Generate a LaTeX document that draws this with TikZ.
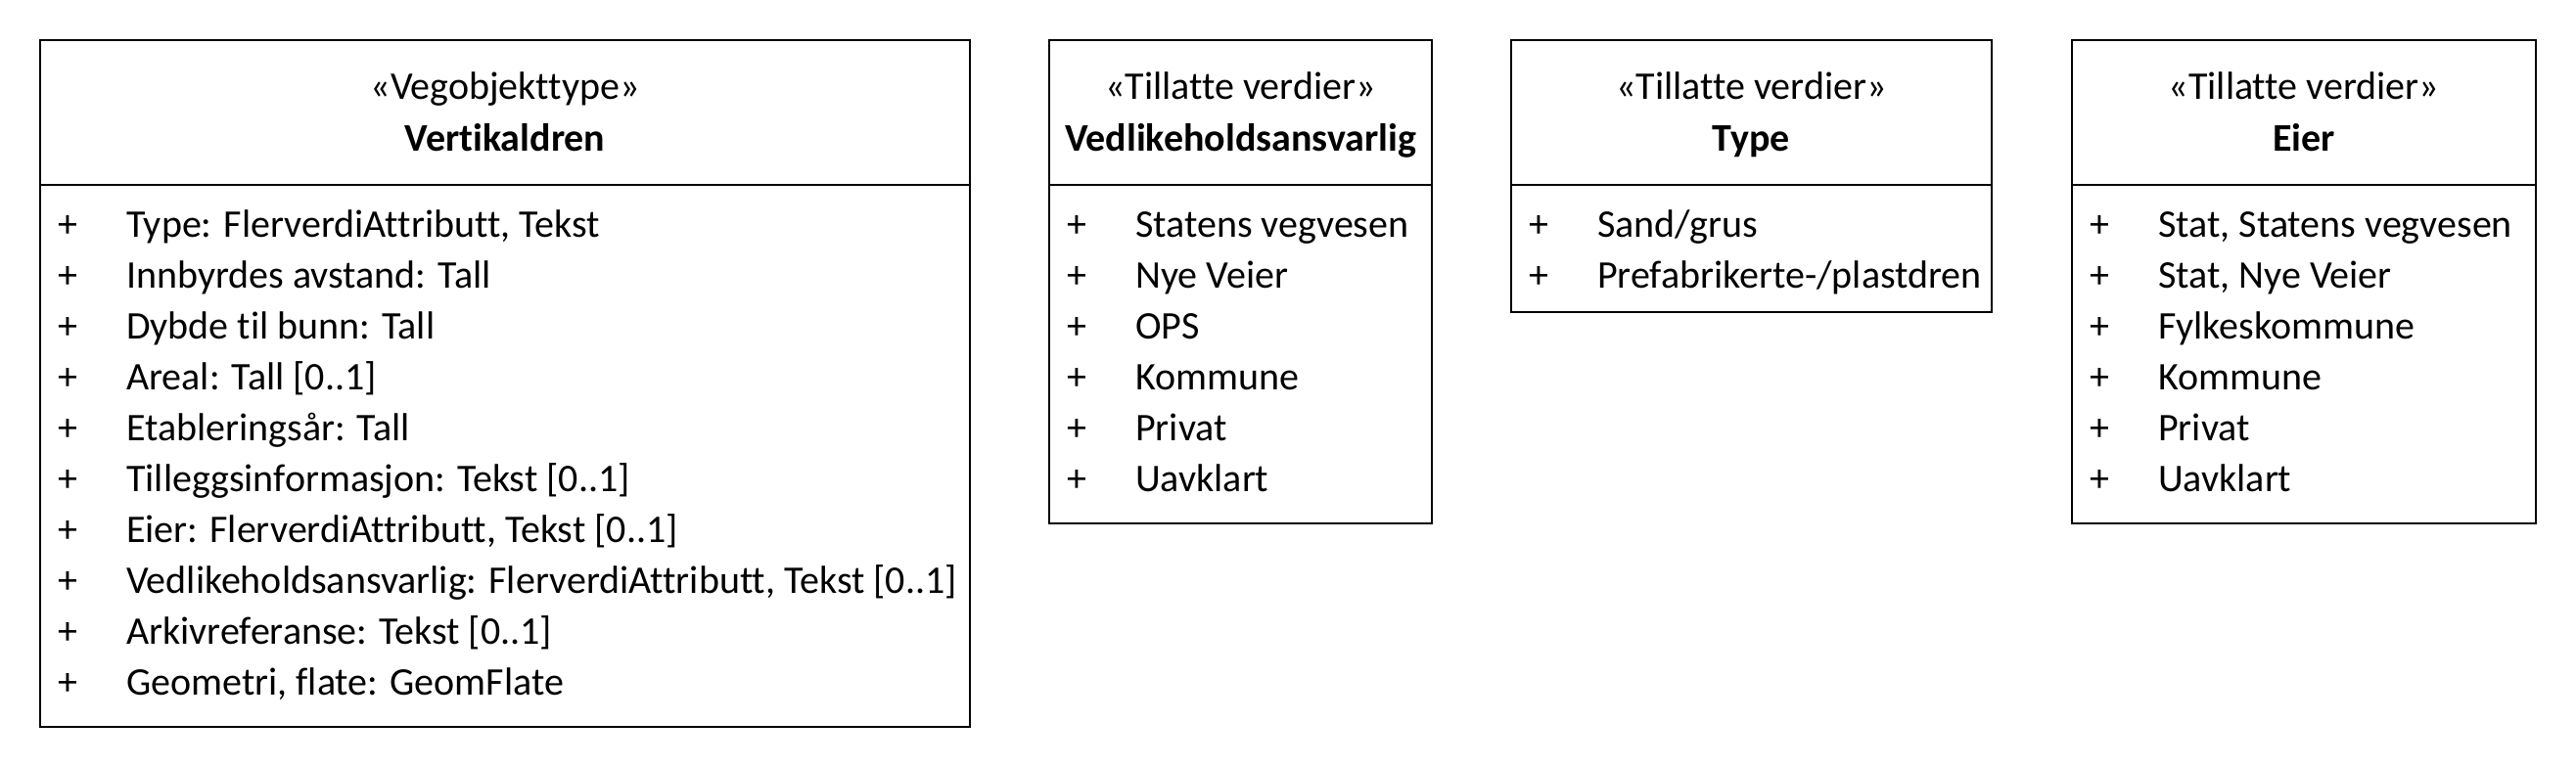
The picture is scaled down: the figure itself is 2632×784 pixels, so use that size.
\documentclass[tikz,border=0pt]{standalone}
\usepackage{fontspec}
\setmainfont{Carlito}[Ligatures={NoCommon,NoContextual}]
\newcommand\umlrow[4]{%
  \node[txt] (#1p) at ({#2+18},{242+52*#3}) {+};
  \node[txt] (#1t) at ({#2+88},{242+52*#3}) {#4};}
\begin{document}
\begin{tikzpicture}[x=1pt,y=-1pt,
  font=\fontsize{40}{48}\selectfont,
  box/.style={draw, line width=2pt},
  txt/.style={anchor=base west, inner sep=0pt},
  hdr/.style={anchor=base, inner sep=0pt}]
\useasboundingbox (0,0) rectangle (2632,784);
% Box 1
\draw[box] (41,41) rectangle (991,743);
\draw[box] (41,189) -- (991,189);
\node[hdr] (s1) at (516,102) {«Vegobjekttype»};
\node[hdr] (n1) at (516,154) {\textbf{Vertikaldren}};
\umlrow{a0}{41}{0}{Type: FlerverdiAttributt, Tekst}
\umlrow{a1}{41}{1}{Innbyrdes avstand: Tall}
\umlrow{a2}{41}{2}{Dybde til bunn: Tall}
\umlrow{a3}{41}{3}{Areal: Tall [0..1]}
\umlrow{a4}{41}{4}{Etableringsår: Tall}
\umlrow{a5}{41}{5}{Tilleggsinformasjon: Tekst [0..1]}
\umlrow{a6}{41}{6}{Eier: FlerverdiAttributt, Tekst [0..1]}
\umlrow{a7}{41}{7}{Vedlikeholdsansvarlig: FlerverdiAttributt, Tekst [0..1]}
\umlrow{a8}{41}{8}{Arkivreferanse: Tekst [0..1]}
\umlrow{a9}{41}{9}{Geometri, flate: GeomFlate}
% Box 2
\draw[box] (1072,41) rectangle (1463,535);
\draw[box] (1072,189) -- (1463,189);
\node[hdr] (s2) at (1267.5,102) {«Tillatte verdier»};
\node[hdr] (n2) at (1267.5,154) {\textbf{Vedlikeholdsansvarlig}};
\umlrow{b0}{1072}{0}{Statens vegvesen}
\umlrow{b1}{1072}{1}{Nye Veier}
\umlrow{b2}{1072}{2}{OPS}
\umlrow{b3}{1072}{3}{Kommune}
\umlrow{b4}{1072}{4}{Privat}
\umlrow{b5}{1072}{5}{Uavklart}
% Box 3
\draw[box] (1544,41) rectangle (2035,319);
\draw[box] (1544,189) -- (2035,189);
\node[hdr] (s3) at (1789.5,102) {«Tillatte verdier»};
\node[hdr] (n3) at (1789.5,154) {\textbf{Type}};
\umlrow{c0}{1544}{0}{Sand/grus}
\umlrow{c1}{1544}{1}{Prefabrikerte-/plastdren}
% Box 4
\draw[box] (2117,41) rectangle (2591,535);
\draw[box] (2117,189) -- (2591,189);
\node[hdr] (s4) at (2354,102) {«Tillatte verdier»};
\node[hdr] (n4) at (2354,154) {\textbf{Eier}};
\umlrow{d0}{2117}{0}{Stat, Statens vegvesen}
\umlrow{d1}{2117}{1}{Stat, Nye Veier}
\umlrow{d2}{2117}{2}{Fylkeskommune}
\umlrow{d3}{2117}{3}{Kommune}
\umlrow{d4}{2117}{4}{Privat}
\umlrow{d5}{2117}{5}{Uavklart}
\end{tikzpicture}
\end{document}
